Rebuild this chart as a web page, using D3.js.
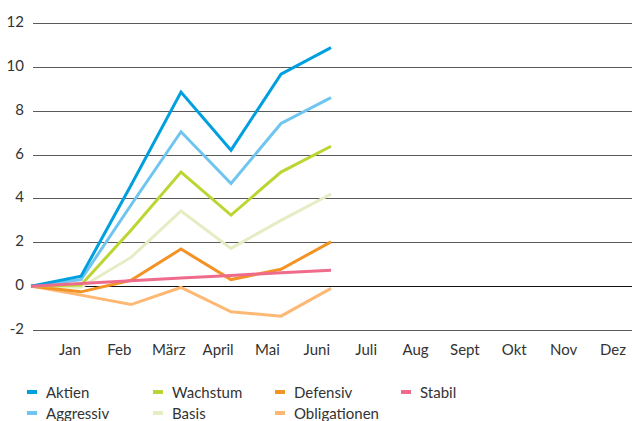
<!DOCTYPE html>
<html>
<head>
<meta charset="utf-8">
<script src="https://cdn.jsdelivr.net/npm/d3@7"></script>
<style>
  body { margin: 0; background: #fff; }
  text { font-family: Lato, "Open Sans", sans-serif; fill: #333; }
</style>
</head>
<body>
<svg width="632" height="421"></svg>
<script>
// performance chart, values in percent, start point 0 before Jan
const months = ["Jan", "Feb", "März", "April", "Mai", "Juni", "Juli", "Aug", "Sept", "Okt", "Nov", "Dez"];
const yTicks = [-2, 0, 2, 4, 6, 8, 10, 12];

const seriesNames = ["Aktien", "Aggressiv", "Wachstum", "Basis", "Defensiv", "Obligationen", "Stabil"];
const seriesColors = ["#009fdf", "#6fc5ef", "#bdd531", "#e4edc3", "#f39325", "#fdb874", "#ef6b8b"];

const aktien       = [0, 0.45, 4.6, 8.85, 6.2, 9.67, 10.88];
const aggressiv    = [0, 0.3, 3.7, 7.04, 4.68, 7.42, 8.6];
const wachstum     = [0, 0.05, 2.55, 5.2, 3.24, 5.2, 6.38];
const basis        = [0, -0.05, 1.31, 3.43, 1.72, 3.0, 4.2];
const defensiv     = [0, -0.26, 0.27, 1.69, 0.3, 0.77, 2.02];
const obligationen = [0, -0.41, -0.84, -0.06, -1.17, -1.37, -0.1];
const stabil       = [0, 0.12, 0.25, 0.37, 0.49, 0.61, 0.72];

const seriesValues = [aktien, aggressiv, wachstum, basis, defensiv, obligationen, stabil];

const svg = d3.select("svg");

// scales
const x = d3.scaleLinear().domain([0, 12]).range([31, 631]);
const y = d3.scaleLinear().domain([-2, 12]).range([330, 23]);
// month labels sit a bit left of the data points
const xLabel = d3.scaleLinear().domain([0, 11]).range([70, 613]);

// gridlines
svg.append("g")
  .selectAll("line")
  .data(yTicks)
  .join("line")
  .attr("x1", 33)
  .attr("x2", 632)
  .attr("y1", (d) => Math.round(y(d)) + 0.5)
  .attr("y2", (d) => Math.round(y(d)) + 0.5)
  .attr("stroke", (d) => (d === 0 ? "#111" : "#5a5a5a"))
  .attr("stroke-width", 1);

// y tick labels
svg.append("g")
  .selectAll("text")
  .data(yTicks)
  .join("text")
  .attr("x", 24)
  .attr("y", (d) => y(d) + 4)
  .attr("text-anchor", "end")
  .attr("font-size", 15)
  .text((d) => d);

// month labels
svg.append("g")
  .selectAll("text")
  .data(months)
  .join("text")
  .attr("x", (d, i) => xLabel(i))
  .attr("y", 355)
  .attr("text-anchor", "middle")
  .attr("font-size", 15)
  .text((d) => d);

// lines, drawn so that Aktien ends on top like in the original
const line = d3.line()
  .x((d, i) => x(i))
  .y((d) => y(d));

const order = [3, 5, 4, 2, 1, 0, 6];
svg.append("g")
  .selectAll("path")
  .data(order)
  .join("path")
  .attr("d", (k) => line(seriesValues[k]))
  .attr("fill", "none")
  .attr("stroke", (k) => seriesColors[k])
  .attr("stroke-width", 3)
  .attr("stroke-linejoin", "miter");

// legend, laid out column by column
const legendPos = [
  [27, 392], [27, 413],
  [153, 392], [153, 413],
  [275, 392], [275, 413],
  [401, 392]
];
const legend = svg.append("g")
  .selectAll("g")
  .data(seriesNames)
  .join("g")
  .attr("transform", (d, i) => `translate(${legendPos[i][0]},${legendPos[i][1]})`);

legend.append("rect")
  .attr("x", 0)
  .attr("y", -2)
  .attr("width", 10)
  .attr("height", 4)
  .attr("fill", (d, i) => seriesColors[i]);

legend.append("text")
  .attr("x", 19)
  .attr("y", 6)
  .attr("font-size", 15)
  .text((d) => d);
</script>
</body>
</html>
